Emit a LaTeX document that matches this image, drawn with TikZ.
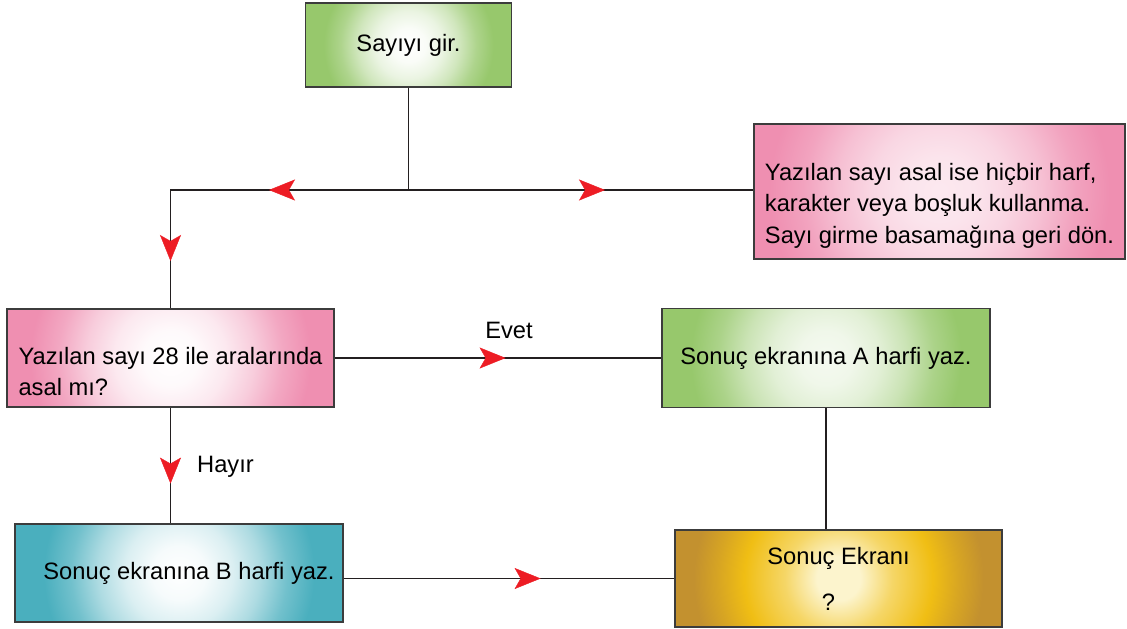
\documentclass[tikz,border=0pt]{standalone}
\usepackage{fontspec}
\setmainfont{Liberation Sans}
\usetikzlibrary{arrows.meta,decorations.markings}
\definecolor{pinkC}{RGB}{239,143,177}
\definecolor{greenC}{RGB}{151,200,108}
\definecolor{tealC}{RGB}{74,175,190}
\definecolor{goldO}{RGB}{195,145,47}
\definecolor{goldY}{RGB}{240,190,20}
\definecolor{goldCream}{RGB}{252,244,205}
\definecolor{lineC}{RGB}{35,31,32}
\definecolor{boxline}{RGB}{60,60,60}
\definecolor{arrowred}{RGB}{237,28,36}
\colorlet{shin}{white}
\colorlet{shout}{pinkC}
\pgfdeclareradialshading[shin,shout]{soft}{\pgfpoint{0bp}{0bp}}{color(0bp)=(shin); color(2bp)=(shout!5!shin); color(4bp)=(shout!20!shin); color(6bp)=(shout!45!shin); color(8bp)=(shout!78!shin); color(10bp)=(shout); color(50bp)=(shout)}
\pgfdeclareradialshading{goldsh}{\pgfpoint{0bp}{0bp}}{color(0bp)=(goldCream); color(1.5bp)=(goldCream); color(3.7bp)=(goldY!55!goldCream); color(6.5bp)=(goldY); color(8.3bp)=(goldO!55!goldY); color(10bp)=(goldO); color(50bp)=(goldO)}
\tikzset{
  redtip/.tip={Stealth[length=26pt,width=21pt,inset=6pt,line width=0.4pt,color=arrowred]},
  box/.style={draw=boxline, line width=1.2pt, rectangle, inner sep=0pt,
    font=\fontsize{23.7}{31.5}\selectfont},
  glow/.style n args={3}{fill=#1, path picture={\colorlet{shin}{#2}\colorlet{shout}{#1}%
      \shade[shading=soft] (path picture bounding box.center) circle (#3);}},
  goldglow/.style={fill=goldO, path picture={\shade[shading=goldsh]
      (path picture bounding box.center) circle (362pt);}},
  conn/.style={draw=lineC, line width=1.6pt},
  arrowat/.style={postaction={decorate, decoration={markings,
      mark=at position #1 with {\arrow{redtip}}}}},
  lbl/.style={font=\fontsize{23.7}{31.5}\selectfont, inner sep=0pt}
}
\begin{document}
\begin{tikzpicture}[x=1pt,y=-1pt]
\useasboundingbox (0,0) rectangle (1127,629);
\fill[white] (0,0) rectangle (1127,629);

\node[box, glow={greenC}{white}{212pt}, minimum width=206pt, minimum height=84pt]
  (start) at (408.5,45) {Sayıyı gir.};
\node[box, glow={pinkC}{pinkC!20}{425pt}, minimum width=371pt, minimum height=135pt]
  (rinfo) at (939.5,191.5) {\raisebox{-13.7pt}[\height][\depth]{\begin{tabular}{@{}l@{}}Yazılan sayı asal ise hiçbir harf,\\karakter veya boşluk kullanma.\\Sayı girme basamağına geri dön.\end{tabular}}};
\node[box, glow={pinkC}{white}{350pt}, minimum width=327pt, minimum height=98pt]
  (q) at (170.5,358) {\raisebox{-15.5pt}[\height][\depth]{\begin{tabular}{@{}l@{}}Yazılan sayı 28 ile aralarında\\asal mı?\end{tabular}}};
\node[box, glow={greenC}{greenC!10}{338pt}, minimum width=328pt, minimum height=99pt]
  (a) at (826,358) {Sonuç ekranına A harfi yaz.};
\node[box, glow={tealC}{white}{338pt}, minimum width=328pt, minimum height=98pt]
  (b) at (179,573) {\hspace*{20pt}Sonuç ekranına B harfi yaz.};
\node[box, goldglow, align=center, font=\fontsize{23.7}{46}\selectfont,
  minimum width=327pt, minimum height=97pt]
  (g) at (838.5,578.5) {Sonuç Ekranı\\?\hspace*{20pt}};

\coordinate (j1) at (408.5,190);
\coordinate (jl) at (170.5,190);

\draw[conn] (start.south) -- (j1);
\draw[conn, arrowat=139.5pt, arrowat=309pt] (j1) -- (jl) -- (q.north);
\draw[conn, arrowat=196.5pt] (j1) -- (j1 -| rinfo.west);
\draw[conn, arrowat=171pt] (q.east) -- (a.west);
\draw[conn, arrowat=76pt] (q.south) -- (q.south |- b.north);
\draw[conn, arrowat=197pt] (g.west -| b.east) -- (g.west);
\draw[conn] (a.south) -- (a.south |- g.north);

\node[lbl, anchor=base] (evet) at (509,338) {Evet};
\node[lbl, anchor=base west] (hayir) at (197,472) {Hayır};
\end{tikzpicture}
\end{document}
